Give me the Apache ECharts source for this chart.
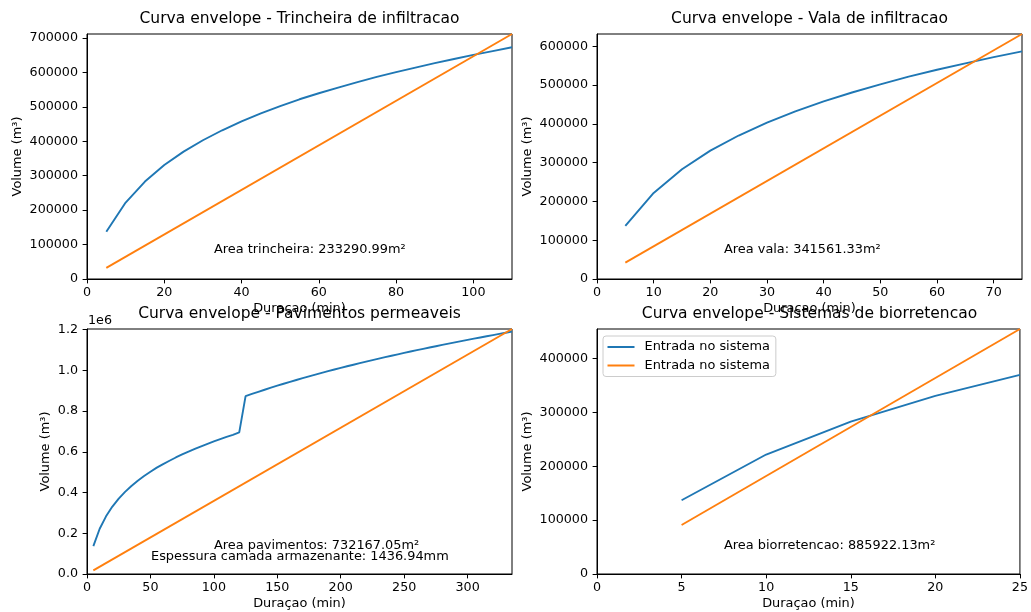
<!DOCTYPE html>
<html>
<head>
<meta charset="utf-8">
<script src="https://cdn.jsdelivr.net/npm/echarts@6/dist/echarts.min.js"></script>
<style>html,body{margin:0;padding:0;background:#fff}#c{width:1031px;height:612px}</style>
</head>
<body>
<div id="c"></div>
<script>
// ---- data ----
const durations = [5,10,15,20,25,30,35,40,45,50,55,60,65,70,75,80,85,90,95,100,105,110,115,120,
  125,130,135,140,145,150,155,160,165,170,175,180,185,190,195,200,205,210,215,220,225,230,235,240,
  245,250,255,260,265,270,275,280,285,290,295,300,305,310,315,320,325,330,335];
const inflowVolume = [137000,222000,283000,331000,370000,403000,432000,458000,481000,502000,522000,539500,
  556000,572000,587000,601000,614000,627000,639000,651000,662000,673000,683000,695000,
  873000,883800,894300,904600,914600,924400,934000,943400,952500,961500,970300,978900,987400,995700,
  1003800,1011800,1019700,1027400,1035100,1042600,1050000,1057200,1064400,1071400,1078400,1085300,
  1092000,1098700,1105300,1111800,1118200,1124600,1130800,1137000,1143200,1149200,1155200,1161100,
  1167000,1172800,1178500,1184100,1189700];

const chartTitles = ['Curva envelope - Trincheira de infiltracao','Curva envelope - Vala de infiltracao',
  'Curva envelope - Pavimentos permeaveis','Curva envelope - Sistemas de biorretencao'];
const xMaxes = [110, 75, 335, 25];
const yMaxes = [711600, 631800, 1202700, 455200];
const storageDurations = [[5,110],[5,75],[5,335],[5,25]];
const storageVolumes = [[32300,711600],[42100,631800],[17950,1202700],[91000,455200]];
const xTicks = [[0,20,40,60,80,100],[0,10,20,30,40,50,60,70],[0,50,100,150,200,250,300],[0,5,10,15,20,25]];
const yTicks = [[0,100000,200000,300000,400000,500000,600000,700000],
  [0,100000,200000,300000,400000,500000,600000],
  [0,200000,400000,600000,800000,1000000,1200000],
  [0,100000,200000,300000,400000]];
const annotations = [
  ['Area trincheira: 233290.99m²'],
  ['Area vala: 341561.33m²'],
  ['Area pavimentos: 732167.05m²','Espessura camada armazenante: 1436.94mm'],
  ['Area biorretencao: 885922.13m²']
];
const legendNames = ['Entrada no sistema','Entrada no sistema'];

// ---- layout ----
const FONT = 'DejaVu Sans';
const FS = 12.9, TFS = 12.7;
const grids = [
  {left:87, top:34, width:425, height:245},
  {left:597, top:34, width:425, height:245},
  {left:87, top:329, width:425, height:245},
  {left:597, top:329, width:425, height:245}
];
const yNameGaps = [63, 63, 35, 63];
const annoPos = [[[214,250]],[[724,250]],[[214,546],[151,557]],[[724,546]]];
const BLUE = '#1f77b4', ORANGE = '#ff7f0e';

const option = {
  animation:false,
  textStyle:{fontFamily:FONT},
  title: chartTitles.map((t,i)=>({
    text:t, left: grids[i].left + grids[i].width/2, top: grids[i].top - 23, textAlign:'center', padding:0,
    textStyle:{fontFamily:FONT, fontSize:15.5, fontWeight:'normal', color:'#000'}
  })),
  grid: grids.map(g=>Object.assign({show:true, borderColor:'#000', borderWidth:1, containLabel:false}, g)),
  xAxis: grids.map((g,i)=>({
    type:'value', gridIndex:i, min:0, max:xMaxes[i],
    name:'Duraçao (min)', nameLocation:'middle', nameGap:23,
    nameTextStyle:{fontFamily:FONT, fontSize:FS, color:'#000'},
    axisLine:{show:true, onZero:false, lineStyle:{color:'#000', width:1}},
    axisTick:{show:true, length:4.4, customValues:xTicks[i], lineStyle:{color:'#000'}},
    axisLabel:{customValues:xTicks[i], margin:7, fontFamily:FONT, fontSize:TFS, color:'#000',
      formatter:v=>String(v)},
    splitLine:{show:false}
  })),
  yAxis: grids.map((g,i)=>({
    type:'value', gridIndex:i, min:0, max:yMaxes[i],
    name:'Volume (m³)', nameLocation:'middle', nameGap:yNameGaps[i],
    nameTextStyle:{fontFamily:FONT, fontSize:FS, color:'#000'},
    axisLine:{show:true, onZero:false, lineStyle:{color:'#000', width:1}},
    axisTick:{show:true, length:4.4, customValues:yTicks[i], lineStyle:{color:'#000'}},
    axisLabel:{customValues:yTicks[i], margin:9, fontFamily:FONT, fontSize:TFS, color:'#000',
      formatter: i===2 ? (v=>(v/1e6).toFixed(1)) : (v=>String(v))},
    splitLine:{show:false}
  })),
  legend:{
    left:603, top:336, orient:'vertical', itemWidth:27, itemHeight:2, itemGap:3.5, icon:'rect',
    padding:[3.5,6,3.5,4.5], borderColor:'#cccccc', borderWidth:1, borderRadius:3,
    backgroundColor:'rgba(255,255,255,0.8)',
    data:['blue3','orange3'],
    formatter: n => n==='blue3' ? legendNames[0] : legendNames[1],
    textStyle:{fontFamily:FONT, fontSize:FS, color:'#000', padding:[0,0,0,5], lineHeight:15}
  },
  graphic: [],
  series: []
};

for (let i=0;i<4;i++){
  const pts = [];
  for (let k=0;k<durations.length;k++){ if (durations[k] <= xMaxes[i]) pts.push([durations[k], inflowVolume[k]]); }
  option.series.push({
    type:'line', name:'blue'+i, xAxisIndex:i, yAxisIndex:i, data:pts, symbol:'none',
    lineStyle:{color:BLUE, width:1.9}, itemStyle:{color:BLUE}, z:2
  });
  option.series.push({
    type:'line', name:'orange'+i, xAxisIndex:i, yAxisIndex:i,
    data: storageDurations[i].map((d,k)=>[d, storageVolumes[i][k]]), symbol:'none',
    lineStyle:{color:ORANGE, width:1.9}, itemStyle:{color:ORANGE}, z:3
  });
  annotations[i].forEach((txt,k)=>{
    option.graphic.push({type:'text', x:annoPos[i][k][0], y:annoPos[i][k][1], z:10,
      style:{text:txt, fontFamily:FONT, fontSize:FS, fill:'#000', verticalAlign:'middle'}});
  });
}
option.graphic.push({type:'text', x:88, y:321, style:{text:'1e6', fontFamily:FONT, fontSize:TFS, fill:'#000', verticalAlign:'middle'}});

const chart = echarts.init(document.getElementById('c'), null, {renderer:'canvas'});
chart.setOption(option);
</script>
</body>
</html>
